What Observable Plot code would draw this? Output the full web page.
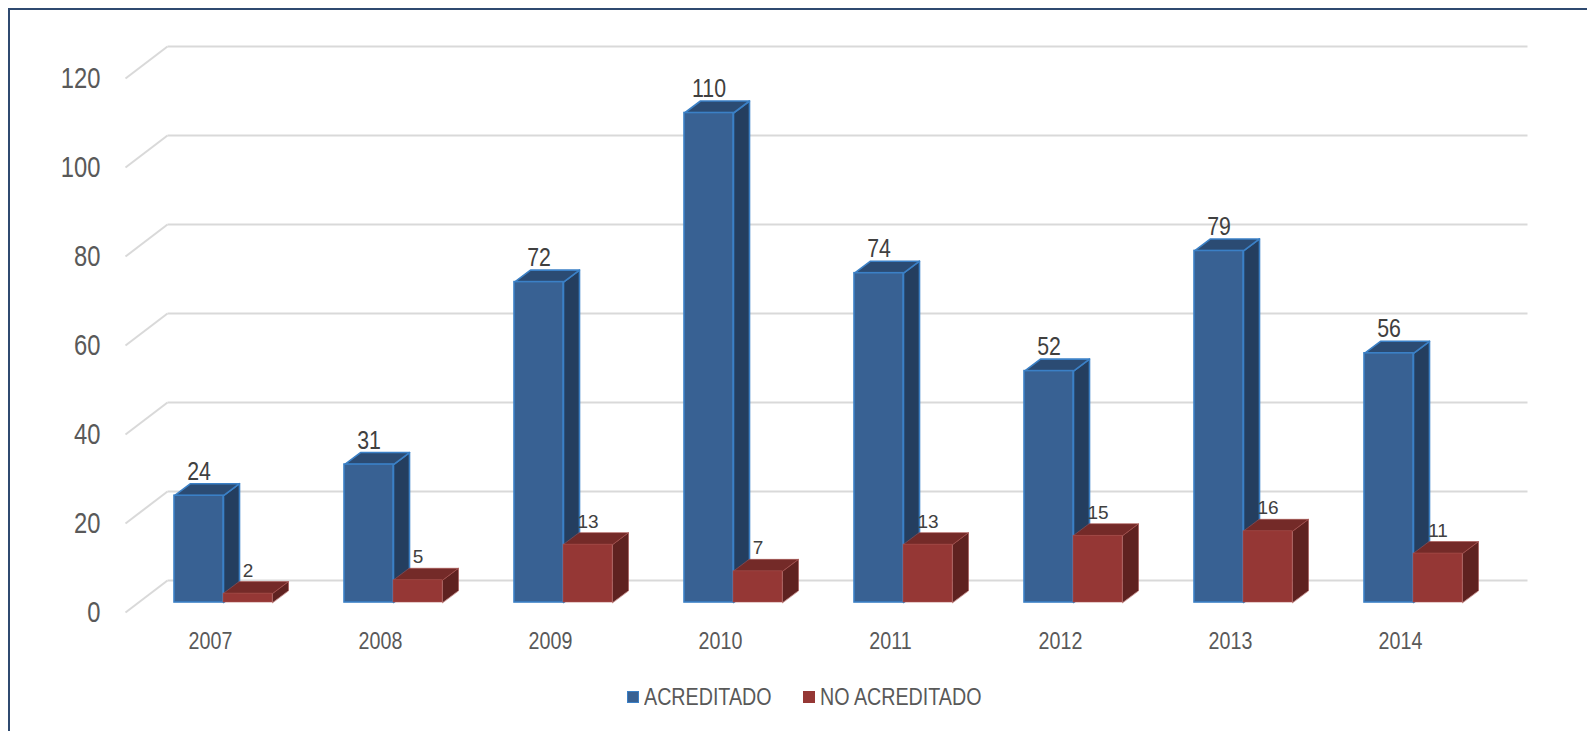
<!DOCTYPE html>
<html><head><meta charset="utf-8">
<script src="https://cdn.jsdelivr.net/npm/d3@7"></script>
<script src="https://cdn.jsdelivr.net/npm/@observablehq/plot@0.6"></script>
<style>
body{margin:0;background:#fff;width:1587px;height:731px;overflow:hidden;position:relative;font-family:"Liberation Sans",Arial,sans-serif;}
#frame{position:absolute;left:8px;top:8px;width:1620px;height:800px;border:2.5px solid #2f4a70;box-sizing:border-box;}
#chart{position:absolute;left:0;top:0;}
.sw{position:absolute;width:12px;height:12px;box-sizing:border-box;}
.lt{position:absolute;font-size:24px;color:#595959;line-height:24px;white-space:nowrap;transform:scaleX(0.82);transform-origin:0 0;}
</style></head><body>
<div id="frame"></div>
<div id="chart"></div>
<div id="legend"></div>
<script>
// ---- data ----
const years = ["2007","2008","2009","2010","2011","2012","2013","2014"];
const acreditado = [24,31,72,110,74,52,79,56];
const noAcreditado = [2,5,13,7,13,15,16,11];
const yTicks = [0,20,40,60,80,100,120];
const seriesNames = ["ACREDITADO","NO ACREDITADO"];

// ---- geometry helpers (pixel constants converted to data units) ----
const KX = 170, KY = 534/120;
const dep = {x: 16/KX, y: 12/KY};
const wall = {x: 42/KX, y: 32/KY};
const barOff = 36/KX, barW = 49/KX;
const FONT = '"Liberation Sans",Arial,sans-serif';
const NARROW = 0.82;

const colors = {
  blue: {front:"#386193", top:"#2b4b73", side:"#243e5f", stroke:"#3b80c6"},
  red:  {front:"#953735", top:"#742a28", side:"#5f2220", stroke:"#a8504d"}
};

function makeBars(vals, k) {
  return vals.map((v, i) => {
    const x1 = i + barOff + k*barW, x2 = x1 + barW;
    return {year: years[i], v, x1, x2, y1: 0, y2: v, xc: (x1+x2)/2, yt: v + dep.y};
  });
}
const blueBars = makeBars(acreditado, 0);
const redBars = makeBars(noAcreditado, 1);

function tops(bars) {
  return bars.flatMap((b, i) => [
    {id:i, x:b.x1, y:b.v}, {id:i, x:b.x2, y:b.v},
    {id:i, x:b.x2+dep.x, y:b.v+dep.y}, {id:i, x:b.x1+dep.x, y:b.v+dep.y}
  ]);
}
function sides(bars) {
  return bars.flatMap((b, i) => [
    {id:i, x:b.x2, y:0}, {id:i, x:b.x2, y:b.v},
    {id:i, x:b.x2+dep.x, y:b.v+dep.y}, {id:i, x:b.x2+dep.x, y:dep.y}
  ]);
}

function barMarks(bars, c, sw) {
  return [
    Plot.line(sides(bars), {x:"x", y:"y", z:"id", curve:"linear-closed", fill:c.side, stroke:c.stroke, strokeWidth:sw, strokeLinejoin:"round"}),
    Plot.line(tops(bars), {x:"x", y:"y", z:"id", curve:"linear-closed", fill:c.top, stroke:c.stroke, strokeWidth:sw, strokeLinejoin:"round"}),
    Plot.rect(bars, {x1:"x1", x2:"x2", y1:"y1", y2:"y2", fill:c.front, stroke:c.stroke, strokeWidth:sw})
  ];
}

const chart = Plot.plot({
  width: 1587, height: 660,
  marginLeft: 138, marginRight: 89, marginTop: 68, marginBottom: 58,
  x: {domain:[0, years.length], axis:null},
  y: {domain:[0, 120], axis:null},
  style: {background:"transparent", overflow:"visible", fontFamily: FONT},
  marks: [
    // perspective gridlines
    Plot.link(yTicks, {x1: () => 0, y1: d => d, x2: () => wall.x, y2: d => d + wall.y, dx:-13, dy:10, stroke:"#d9d9d9", strokeWidth:2}),
    Plot.link(yTicks, {x1: () => 0, y1: d => d, x2: () => years.length, y2: d => d, dx:29, dy:-22, stroke:"#d9d9d9", strokeWidth:2}),
    // y labels
    Plot.text(yTicks, {x: () => 0, y: d => d, text: d => String(d), dx:-38, dy:10, textAnchor:"end", lineAnchor:"middle", fontSize:29, fill:"#595959", fontFamily:FONT}),
    // x labels
    Plot.text(years, {x: (d,i) => i + 0.5, y: () => 0, text: d => d, dx:-13, dy:39, lineAnchor:"middle", fontSize:24, fill:"#595959", fontFamily:FONT}),
    ...barMarks(blueBars, colors.blue, 1.6),
    ...barMarks(redBars, colors.red, 0.6),
    Plot.text(blueBars, {x:"xc", y:"yt", text: d => String(d.v), dy:-4, lineAnchor:"bottom", fontSize:26, fill:"#404040", fontFamily:FONT}),
    Plot.text(redBars, {x:"xc", y:"yt", text: d => String(d.v), dy:-5, lineAnchor:"bottom", fontSize:19, fill:"#404040", fontFamily:FONT})
  ]
});
document.getElementById("chart").appendChild(chart);

// condense the Arial-like text to mimic Arial Narrow (all but the small red labels)
chart.querySelectorAll("text").forEach(t => {
  const g = t.closest("g");
  if (g && g.getAttribute("font-size") === "19") return;
  const xa = t.getAttribute("x");
  if (xa !== null && !isNaN(+xa)) t.setAttribute("x", (+xa) / NARROW);
  const tr = t.getAttribute("transform") || "";
  t.setAttribute("transform", `${tr} scale(${NARROW},1)`);
});

// legend
const leg = document.getElementById("legend");
const legItems = [
  {name: seriesNames[0], fill: colors.blue.front, stroke: colors.blue.stroke, sx: 627, tx: 644},
  {name: seriesNames[1], fill: colors.red.front, stroke: colors.red.front, sx: 803, tx: 820}
];
legItems.forEach(it => {
  const s = document.createElement("div");
  s.className = "sw"; s.style.left = it.sx + "px"; s.style.top = "691px";
  s.style.background = it.fill; s.style.border = "1.5px solid " + it.stroke;
  leg.appendChild(s);
  const t = document.createElement("div");
  t.className = "lt"; t.style.left = it.tx + "px"; t.style.top = "685px";
  t.textContent = it.name;
  leg.appendChild(t);
});
</script>
</body></html>
